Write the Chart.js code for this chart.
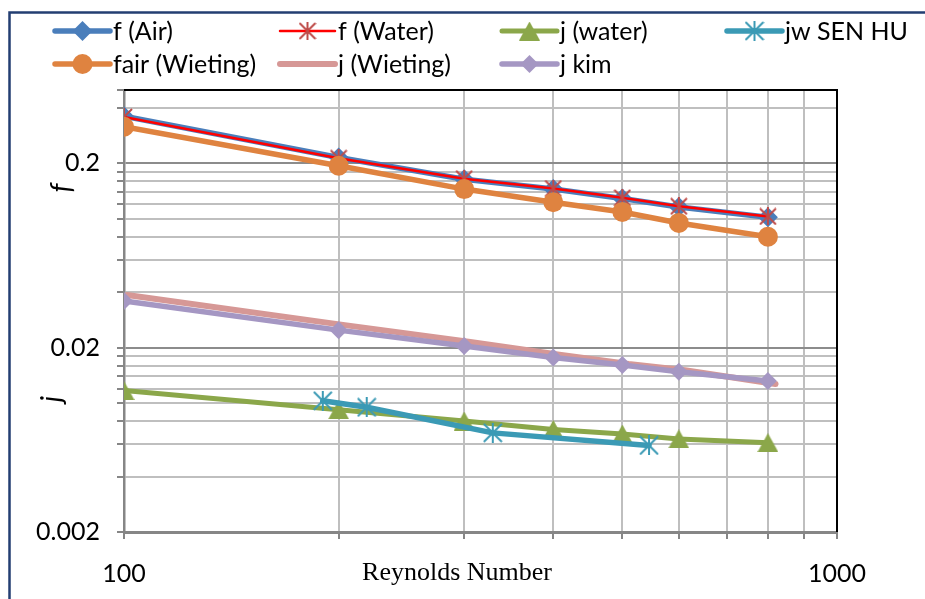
<!DOCTYPE html>
<html>
<head>
<meta charset="utf-8">
<script src="https://cdn.jsdelivr.net/npm/chart.js@4.4.1/dist/chart.umd.min.js"></script>
<style>
  html, body { margin: 0; padding: 0; background: #ffffff; }
  #wrap { width: 925px; height: 599px; position: relative; }
  canvas { display: block; }
</style>
</head>
<body>
<div id="wrap"><canvas id="chart" width="925" height="599"></canvas></div>
<script>
// Reynolds numbers of the test points
const reynolds        = [100, 200, 300, 400, 500, 600, 800];
const reynoldsWieting = [101, 204, 306, 408, 510, 612, 820];
const reynoldsSenHu   = [190, 219, 329, 545];

// Friction factor series
const fAir         = [0.360, 0.215, 0.164, 0.145, 0.129, 0.116, 0.102];
const fWater       = [0.357, 0.213, 0.165, 0.146, 0.130, 0.117, 0.103];
const fairWieting  = [0.316, 0.194, 0.145, 0.123, 0.109, 0.095, 0.080];

// Colburn j factor series
const jWater       = [0.0117, 0.0092, 0.0080, 0.0072, 0.0068, 0.0064, 0.0061];
const jwSenHu      = [0.0103, 0.0095, 0.0069, 0.0059];
const jWieting     = [0.0386, 0.0265, 0.0215, 0.0183, 0.0163, 0.0151, 0.0127];
const jKim         = [0.0358, 0.0249, 0.0204, 0.0177, 0.0161, 0.0148, 0.0132];

// Axis grid values and the ones that carry a label
const xGridValues = [100, 200, 300, 400, 500, 600, 700, 800, 900, 1000];
const xTickLabels = ['100', '1000'];
const yGridValues = [0.002, 0.004, 0.006, 0.008, 0.01, 0.012, 0.014, 0.016, 0.018,
                     0.02, 0.04, 0.06, 0.08, 0.1, 0.12, 0.14, 0.16, 0.18,
                     0.2, 0.4, 0.5];
const yTickLabels = ['0.002', '0.02', '0.2'];
const yMajorValues = [0.002, 0.02, 0.2];

const SANS = 'Lato, "Open Sans", sans-serif';

function same(a, b) { return Math.abs(a - b) <= 1e-9 * Math.max(Math.abs(a), Math.abs(b)); }
function pts(xs, ys) { return xs.map((x, i) => ({ x: x, y: ys[i] })); }

// Excel-like "star" marker: a cross with a vertical bar
function starMarker(color, size, lw) {
  const c = document.createElement('canvas');
  c.width = size; c.height = size;
  const g = c.getContext('2d');
  const p = lw / 2, m = size / 2;
  g.strokeStyle = color; g.lineWidth = lw;
  g.beginPath();
  g.moveTo(p, p); g.lineTo(size - p, size - p);
  g.moveTo(size - p, p); g.lineTo(p, size - p);
  g.moveTo(m, 0); g.lineTo(m, size);
  g.stroke();
  return c;
}
// Triangle marker centred on its bounding box
function triangleMarker(color, w, h) {
  const c = document.createElement('canvas');
  c.width = w; c.height = h;
  const g = c.getContext('2d');
  g.fillStyle = color;
  g.beginPath();
  g.moveTo(w / 2, 0); g.lineTo(w, h); g.lineTo(0, h);
  g.closePath(); g.fill();
  return c;
}

const BLUE = '#4A7EBB', RED = '#FF0000', STAR_RED = '#BE4B48', GREEN = '#8BA74A',
      TEAL = '#3B9AB5', ORANGE = '#DF8340', PINK = '#D69896', LAVENDER = '#A597C3';

const datasets = [
  { label: 'f (Air)', data: pts(reynolds, fAir), borderColor: BLUE, backgroundColor: BLUE,
    borderWidth: 5.5, pointStyle: 'rectRot', pointRadius: 10, pointBorderWidth: 0 },
  { label: 'f (Water)', data: pts(reynolds, fWater), borderColor: RED, backgroundColor: STAR_RED,
    borderWidth: 2.5, pointStyle: starMarker(STAR_RED, 18, 2), pointRadius: 9 },
  { label: 'j (water)', data: pts(reynolds, jWater), borderColor: GREEN, backgroundColor: GREEN,
    borderWidth: 5, pointStyle: triangleMarker(GREEN, 21, 19), pointRadius: 10 },
  { label: 'jw SEN HU', data: pts(reynoldsSenHu, jwSenHu), borderColor: TEAL, backgroundColor: TEAL,
    borderWidth: 5.5, pointStyle: starMarker(TEAL, 20, 2), pointRadius: 10 },
  { label: 'fair (Wieting)', data: pts(reynolds, fairWieting), borderColor: ORANGE, backgroundColor: ORANGE,
    borderWidth: 5.5, pointStyle: 'circle', pointRadius: 10, pointBorderWidth: 0 },
  { label: 'j (Wieting)', data: pts(reynoldsWieting, jWieting), borderColor: PINK, backgroundColor: PINK,
    borderWidth: 6, pointRadius: 0, pointStyle: false },
  { label: 'j kim', data: pts(reynolds, jKim), borderColor: LAVENDER, backgroundColor: LAVENDER,
    borderWidth: 5.5, pointStyle: 'rectRot', pointRadius: 9, pointBorderWidth: 0 }
];
// later series are painted above earlier ones
datasets.forEach((d, i) => { d.order = 10 - i; d.tension = 0; d.fill = false; d.borderCapStyle = 'round'; d.borderJoinStyle = 'round'; });

// legend grid: [column, row]
const legendSlots = [[0, 0], [1, 0], [2, 0], [3, 0], [0, 1], [1, 1], [2, 1]];
const legendCols = [55, 280, 502, 727];
const legendRows = [31, 64];

const decorations = {
  id: 'decorations',
  beforeDatasetsDraw(chart) {
    const { ctx, chartArea: a } = chart;
    ctx.save();
    ctx.strokeStyle = '#000000';
    ctx.lineWidth = 2;
    ctx.beginPath();
    ctx.moveTo(a.left, a.top);
    ctx.lineTo(a.right, a.top);
    ctx.lineTo(a.right, a.bottom);
    ctx.stroke();
    ctx.restore();
  },
  afterDraw(chart) {
    const ctx = chart.ctx;
    ctx.save();
    // outer frame
    ctx.strokeStyle = '#233E72';
    ctx.lineWidth = 2.5;
    ctx.strokeRect(9.5, 12.5, 1000, 700);

    // legend
    ctx.font = '25px ' + SANS;
    ctx.textBaseline = 'middle';
    ctx.textAlign = 'left';
    chart.data.datasets.forEach((ds, i) => {
      const [c, r] = legendSlots[i];
      const x0 = legendCols[c], x1 = x0 + 55, y = legendRows[r];
      ctx.strokeStyle = ds.borderColor;
      ctx.lineWidth = ds.borderWidth;
      ctx.lineCap = 'round';
      ctx.beginPath(); ctx.moveTo(x0, y); ctx.lineTo(x1, y); ctx.stroke();
      if (ds.pointStyle) {
        ctx.fillStyle = ds.backgroundColor;
        ctx.strokeStyle = ds.backgroundColor;
        Chart.helpers.drawPoint(ctx, { pointStyle: ds.pointStyle, radius: ds.pointRadius, borderWidth: 0, rotation: 0 }, (x0 + x1) / 2, y);
      }
      ctx.fillStyle = '#000000';
      ctx.fillText(ds.label, x1 + 3, y + 1);
    });

    // axis titles
    ctx.fillStyle = '#000000';
    ctx.font = '26px "Liberation Serif", "Times New Roman", serif';
    ctx.textAlign = 'center';
    ctx.textBaseline = 'alphabetic';
    ctx.fillText('Reynolds Number', 457, 580);

    ctx.font = 'italic 28px ' + SANS;
    ctx.textBaseline = 'middle';
    [['f', 62, 188], ['j', 52, 399]].forEach(([t, x, y]) => {
      ctx.save();
      ctx.translate(x, y);
      ctx.rotate(-Math.PI / 2);
      ctx.fillText(t, 0, 0);
      ctx.restore();
    });
    ctx.restore();
  }
};

new Chart(document.getElementById('chart'), {
  type: 'line',
  data: { datasets: datasets },
  plugins: [decorations],
  options: {
    responsive: false,
    animation: false,
    devicePixelRatio: 1,
    layout: { padding: { top: 90, right: 88, left: 0, bottom: 0 } },
    plugins: { legend: { display: false }, tooltip: { enabled: false } },
    scales: {
      x: {
        type: 'logarithmic',
        min: 100, max: 1000,
        afterBuildTicks: s => { s.ticks = xGridValues.map(v => ({ value: v })); },
        afterFit: s => { s.height = 67; },
        ticks: {
          autoSkip: false, maxRotation: 0, minRotation: 0, padding: 20,
          color: '#000000', font: { family: SANS, size: 25 },
          callback: v => xTickLabels.find(t => same(Number(t), v)) || ''
        },
        grid: {
          color: c => (c.tick && same(c.tick.value, 1000)) ? 'rgba(0,0,0,0)' : '#BFBFBF',
          lineWidth: 2, tickLength: 7, tickWidth: 2, tickColor: '#868686'
        },
        border: { color: '#868686', width: 3 }
      },
      y: {
        type: 'logarithmic',
        min: 0.002, max: 0.5,
        afterBuildTicks: s => { s.ticks = yGridValues.map(v => ({ value: v })); },
        afterFit: s => { s.width = 124; },
        ticks: {
          autoSkip: false, padding: 17,
          color: '#000000', font: { family: SANS, size: 25 },
          callback: v => yTickLabels.find(t => same(Number(t), v)) || ''
        },
        grid: {
          color: c => {
            const v = c.tick ? c.tick.value : 0;
            if (same(v, 0.5)) return 'rgba(0,0,0,0)';
            return yMajorValues.some(m => same(m, v)) ? '#8C8C8C' : '#BFBFBF';
          },
          lineWidth: 2, tickLength: 7, tickWidth: 2, tickColor: '#868686'
        },
        border: { color: '#868686', width: 2.5 }
      }
    }
  }
});
</script>
</body>
</html>
